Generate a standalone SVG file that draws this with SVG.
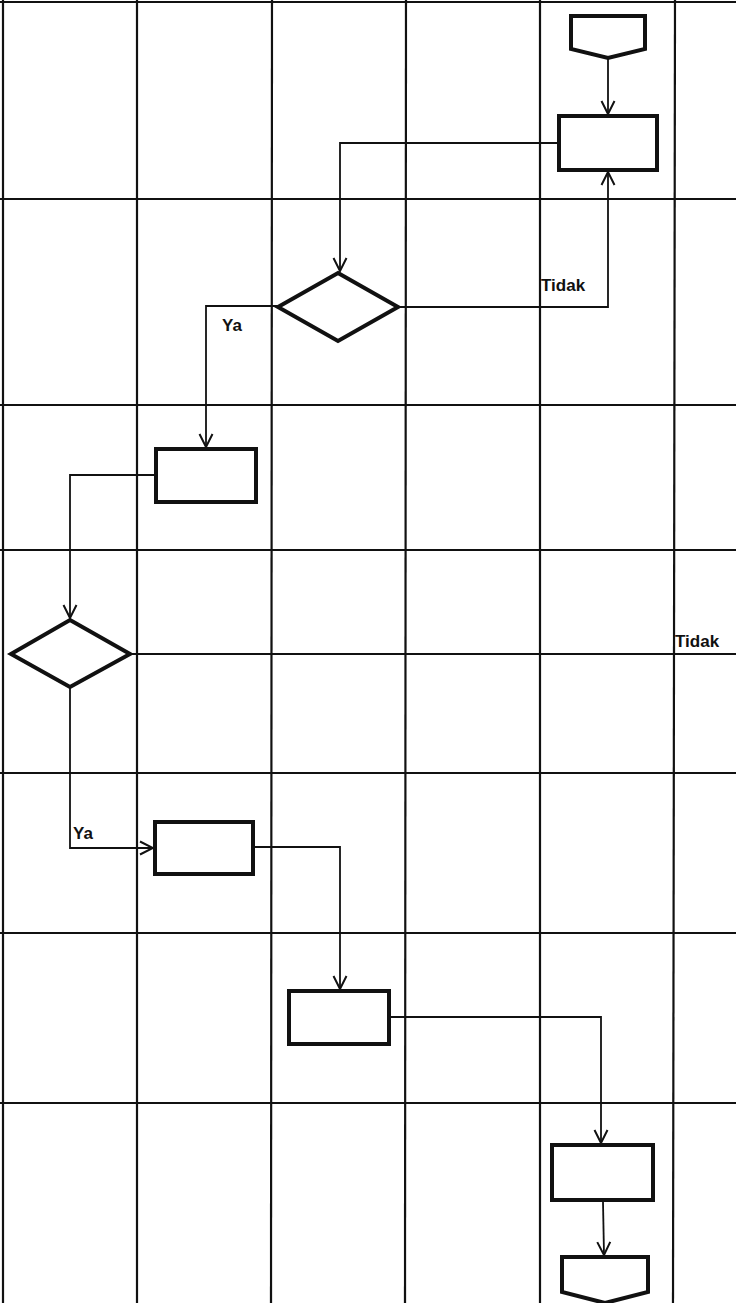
<svg xmlns="http://www.w3.org/2000/svg" width="736" height="1303" viewBox="0 0 736 1303">
<style>
.grid{stroke:#111;stroke-width:2.2;fill:none}
.node{fill:#fff;stroke:#111;stroke-width:4;stroke-linejoin:miter}
.conn{fill:none;stroke:#111;stroke-width:1.8}
.lbl{font-family:"Liberation Sans",Arial,sans-serif;font-weight:bold;font-size:17px;fill:#111}
</style>
<defs>
<marker id="arr" markerUnits="userSpaceOnUse" markerWidth="16" markerHeight="16" viewBox="0 0 16 16" refX="14" refY="8" orient="auto">
<path d="M1,1.5 L14,8 L1,14.5" fill="none" stroke="#111" stroke-width="2"/>
</marker>
</defs>
<rect width="736" height="1303" fill="#fff"/>
<g id="grid">
<line class="grid" x1="0" y1="2" x2="736" y2="2"/>
<line class="grid" x1="3" y1="0" x2="3" y2="1303"/>
<line class="grid" x1="137" y1="0" x2="137" y2="1303"/>
<line class="grid" x1="272" y1="0" x2="271" y2="1303"/>
<line class="grid" x1="406" y1="0" x2="405" y2="1303"/>
<line class="grid" x1="540" y1="0" x2="540" y2="1303"/>
<line class="grid" x1="675" y1="0" x2="673" y2="1303"/>
<line class="grid" x1="0" y1="199" x2="736" y2="199"/>
<line class="grid" x1="0" y1="405" x2="736" y2="405"/>
<line class="grid" x1="0" y1="550" x2="736" y2="550"/>
<line class="grid" x1="0" y1="773" x2="736" y2="773"/>
<line class="grid" x1="0" y1="933" x2="736" y2="933"/>
<line class="grid" x1="0" y1="1103" x2="736" y2="1103"/>
</g>
<g id="connectors">
<path class="conn" d="M608,58 L608,114" marker-end="url(#arr)"/>
<path class="conn" d="M557,143 L340,143 L340,271" marker-end="url(#arr)"/>
<path class="conn" d="M398,307 L608,307 L608,172" marker-end="url(#arr)"/>
<path class="conn" d="M278,306 L206,306 L206,447" marker-end="url(#arr)"/>
<path class="conn" d="M154,475 L70,475 L70,618" marker-end="url(#arr)"/>
<path class="conn" d="M130,654 L736,654"/>
<path class="conn" d="M70,687 L70,848 L153,848" marker-end="url(#arr)"/>
<path class="conn" d="M255,847 L340,847 L340,989" marker-end="url(#arr)"/>
<path class="conn" d="M391,1017 L601,1017 L601,1143" marker-end="url(#arr)"/>
<path class="conn" d="M603,1202 L604,1255" marker-end="url(#arr)"/>
</g>
<g id="labels">
<text class="lbl" x="541" y="291">Tidak</text>
<text class="lbl" x="222" y="331">Ya</text>
<text class="lbl" x="675" y="647">Tidak</text>
<text class="lbl" x="73" y="839">Ya</text>
</g>
<g id="start"><path class="node" d="M571,16 L645,16 L645,49 L608,58 L571,49 Z"/></g>
<g id="box1"><rect class="node" x="559" y="116" width="98" height="54"/></g>
<g id="decision1"><path class="node" d="M338,273 L398,307 L338,341 L278,307 Z"/></g>
<g id="box2"><rect class="node" x="156" y="449" width="100" height="53"/></g>
<g id="decision2"><path class="node" d="M70,620 L130,654 L70,687 L11,654 Z"/></g>
<g id="box3"><rect class="node" x="155" y="822" width="98" height="52"/></g>
<g id="box4"><rect class="node" x="289" y="991" width="100" height="53"/></g>
<g id="box5"><rect class="node" x="552" y="1145" width="101" height="55"/></g>
<g id="end"><path class="node" d="M562,1257 L648,1257 L648,1292 L605,1303 L562,1292 Z"/></g>
</svg>
